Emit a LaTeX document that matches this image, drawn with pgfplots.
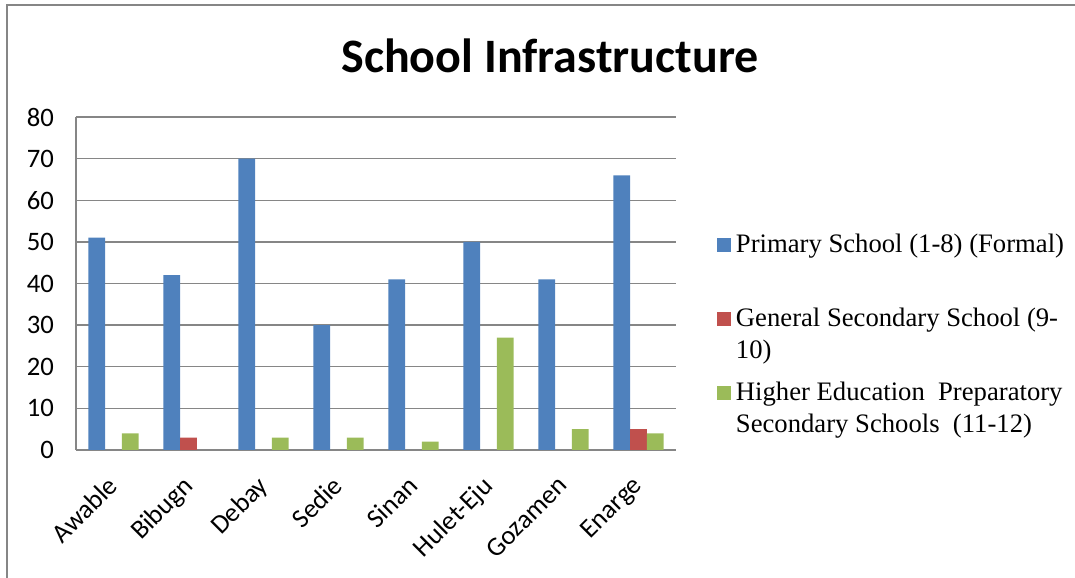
\documentclass[border=0pt]{standalone}
\usepackage{pgfplots}
\pgfplotsset{compat=1.18}
\usepackage{fontspec}
\setmainfont{Carlito}
\newfontfamily\legendfont{Liberation Serif}
\definecolor{cblue}{HTML}{4F81BD}
\definecolor{cred}{HTML}{C0504D}
\definecolor{cgreen}{HTML}{9BBB59}
\definecolor{cgrid}{HTML}{868686}
\pgfplotsset{sq legend/.style={legend image code/.code={\fill[##1] (0pt,0.75pt) rectangle (10.5pt,11.25pt);}}}
\begin{document}
\begin{tikzpicture}
\useasboundingbox (0,0) rectangle (806.25pt,433.5pt);
\draw[line width=1.5pt, color=cgrid] (5.25pt,0) -- (5.25pt,429.4pt) -- (806.25pt,429.4pt);
\node[anchor=base, font=\fontsize{36}{40}\selectfont\bfseries] at (412.5pt,378.75pt) {School Infrastructure};
\begin{axis}[
  at={(57pt,96pt)}, anchor=south west,
  scale only axis, width=450pt, height=249.75pt,
  xmin=-0.5, xmax=7.5, ymin=0, ymax=80,
  ytick={0,10,...,80},
  xtick={0,...,7},
  xticklabels={Awable,Bibugn,Debay,Sedie,Sinan,Hulet-Eju,Gozamen,Enarge},
  axis x line*=bottom, axis y line*=left,
  axis line style={cgrid, line width=1.1pt, -},
  ymajorgrids, grid style={cgrid, line width=1.1pt},
  major tick length=0pt,
  ybar=0pt, bar width=12.6pt,
  tick label style={font=\fontsize{20}{22}\selectfont},
  /pgf/number format/assume math mode=true,
  yticklabel style={anchor=east, xshift=-13pt},
  xticklabel style={xshift=-5.5pt, yshift=-13.5pt, rotate=45, anchor=north east},
  legend style={at={(1.0683,0.6589)}, anchor=north west, draw=none, fill=none,
    inner sep=0pt, outer sep=0pt,
    font=\legendfont\fontsize{20}{24}\selectfont,
    cells={anchor=base west},
    nodes={inner sep=0pt, text width=252pt, align=flush left, text height=16.8pt, text depth=38.7pt},
    /tikz/every odd column/.style={column sep=3.75pt}, row sep=0pt},
]
\addplot[fill=cblue, draw=none, sq legend] coordinates {(0,51) (1,42) (2,70) (3,30) (4,41) (5,50) (6,41) (7,66)};
\addlegendentry{Primary School (1-8) (Formal)}
\addplot[fill=cred, draw=none, sq legend] coordinates {(1,3) (7,5)};
\addlegendentry{General Secondary School (9-\\10)}
\addplot[fill=cgreen, draw=none, sq legend] coordinates {(0,4) (2,3) (3,3) (4,2) (5,27) (6,5) (7,4)};
\addlegendentry{Higher Education~ Preparatory\\Secondary Schools~ (11-12)}
\end{axis}
\end{tikzpicture}
\end{document}
